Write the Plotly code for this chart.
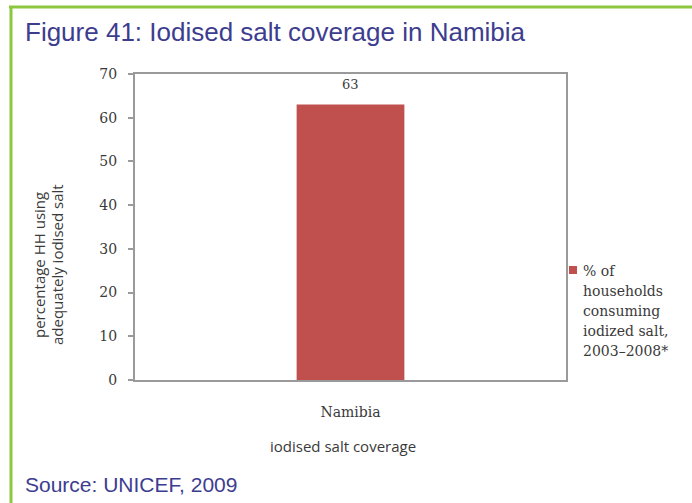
import plotly.graph_objects as go

# Data
categories = ["Namibia"]
coverage = [63]
series_lines = ["% of", "households", "consuming", "iodized salt,", "2003–2008*"]
y_ticks = [0, 10, 20, 30, 40, 50, 60, 70]

W, H = 692, 503
L, R, T, B = 135, 126, 74, 123

serif = "DejaVu Serif"
sans = "Open Sans"
gray_axis = "#9a9a9a"
bar_red = "#c0504d"
green = "#8dc63f"
title_blue = "#3d3d8f"
text_dark = "#3a3a3a"


def px_x(px):
    return (px - L) / (W - L - R)


def px_y(py):
    return 1 - (py - T) / (H - T - B)


fig = go.Figure()
fig.add_trace(go.Bar(
    x=categories,
    y=coverage,
    name=" ".join(series_lines),
    marker=dict(color=bar_red, line=dict(width=0)),
    width=0.25,
    showlegend=False,
))

annotations = []

# value label above the bar
for cat, val in zip(categories, coverage):
    annotations.append(dict(
        x=cat, y=val, xref="x", yref="y",
        text=str(val), showarrow=False,
        yanchor="bottom", yshift=11,
        font=dict(family=serif, size=13, color=text_dark),
    ))

# y-axis title (two lines)
for i, line in enumerate(["percentage HH using", "adequately iodised salt"]):
    annotations.append(dict(
        text=line, xref="paper", yref="paper",
        x=px_x(39 + 18 * i), y=px_y(265),
        xanchor="center", yanchor="middle",
        textangle=-90, showarrow=False,
        font=dict(family=sans, size=15, color=text_dark),
    ))

# x-axis title
annotations.append(dict(
    text="iodised salt coverage", xref="paper", yref="paper",
    x=px_x(343), y=px_y(446),
    xanchor="center", yanchor="middle", showarrow=False,
    font=dict(family=sans, size=15, color=text_dark),
))

# legend text lines
for i, line in enumerate(series_lines):
    annotations.append(dict(
        text=line, xref="paper", yref="paper",
        x=px_x(581), y=px_y(271 + 20 * i),
        xanchor="left", yanchor="middle", showarrow=False,
        font=dict(family=serif, size=14, color=text_dark),
    ))

# figure caption and source
annotations.append(dict(
    text="Figure 41: Iodised salt coverage in Namibia",
    xref="paper", yref="paper",
    x=px_x(23), y=px_y(32),
    xanchor="left", yanchor="middle", showarrow=False,
    font=dict(family="Liberation Sans", size=26, color=title_blue),
))
annotations.append(dict(
    text="Source: UNICEF, 2009",
    xref="paper", yref="paper",
    x=px_x(23), y=px_y(485),
    xanchor="left", yanchor="middle", showarrow=False,
    font=dict(family="Liberation Sans", size=21, color=title_blue),
))

shapes = [
    # legend swatch
    dict(type="rect", xref="paper", yref="paper",
         x0=px_x(569), x1=px_x(577), y0=px_y(266), y1=px_y(274),
         fillcolor=bar_red, line=dict(width=0)),
    # green frame
    dict(type="line", xref="paper", yref="paper",
         x0=px_x(9), x1=px_x(W + 2), y0=px_y(7), y1=px_y(7),
         line=dict(color=green, width=3)),
    dict(type="line", xref="paper", yref="paper",
         x0=px_x(11), x1=px_x(11), y0=px_y(6), y1=px_y(H + 2),
         line=dict(color=green, width=3)),
]

fig.update_layout(
    width=W,
    height=H,
    margin=dict(l=L, r=R, t=T, b=B, pad=0),
    paper_bgcolor="white",
    plot_bgcolor="white",
    showlegend=False,
    xaxis=dict(
        range=[-0.5, 0.5],
        showline=True,
        linecolor=gray_axis,
        linewidth=2,
        mirror=True,
        ticks="",
        showgrid=False,
        ticklabelstandoff=18,
        tickfont=dict(family=serif, size=14, color=text_dark),
    ),
    yaxis=dict(
        range=[0, 70],
        tickvals=y_ticks,
        showline=True,
        linecolor=gray_axis,
        linewidth=2,
        mirror=True,
        ticks="outside",
        ticklen=5,
        tickcolor=gray_axis,
        tickwidth=1.5,
        ticklabelstandoff=8,
        showgrid=False,
        zeroline=False,
        tickfont=dict(family=serif, size=14, color=text_dark),
    ),
    annotations=annotations,
    shapes=shapes,
)

fig.write_html("out.html")
